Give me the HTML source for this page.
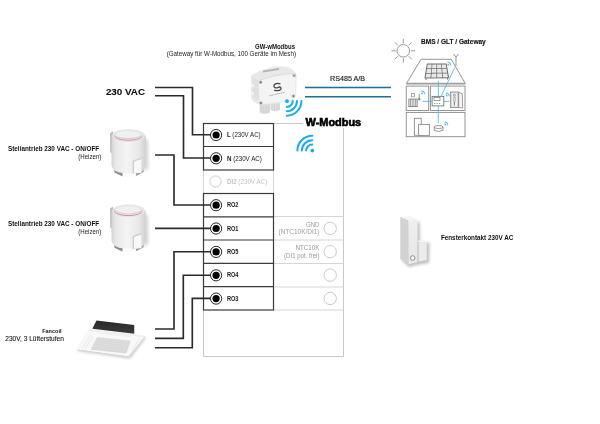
<!DOCTYPE html>
<html><head><meta charset="utf-8">
<style>
html,body{margin:0;padding:0;background:#fff;}
body{width:600px;height:424px;overflow:hidden;position:relative;}
svg{position:absolute;left:0;top:0;will-change:transform;}
text{font-family:"Liberation Sans",sans-serif;}
</style></head><body>
<svg width="600" height="424" viewBox="0 0 600 424">
<defs>
  <linearGradient id="act" x1="0" x2="1" y1="0" y2="0">
    <stop offset="0" stop-color="#d4d4d4"/>
    <stop offset="0.12" stop-color="#e8e8e8"/>
    <stop offset="0.45" stop-color="#f4f4f4"/>
    <stop offset="0.8" stop-color="#e8e8e8"/>
    <stop offset="1" stop-color="#d0d0d0"/>
  </linearGradient>
  <linearGradient id="ring" x1="0" x2="0" y1="0" y2="1">
    <stop offset="0" stop-color="#e4e4e4"/>
    <stop offset="0.4" stop-color="#e6d4d6"/>
    <stop offset="0.6" stop-color="#d98088"/>
    <stop offset="1" stop-color="#d6747e"/>
  </linearGradient>
  <linearGradient id="fkg" x1="0" x2="0" y1="0" y2="1">
    <stop offset="0" stop-color="#efefef"/>
    <stop offset="1" stop-color="#e6e6e6"/>
  </linearGradient>
  <filter id="blur1" x="-50%" y="-50%" width="200%" height="200%"><feGaussianBlur stdDeviation="1.5"/></filter>
  <linearGradient id="fcdark" x1="0" x2="0" y1="0" y2="1">
    <stop offset="0" stop-color="#2a2a2a"/>
    <stop offset="1" stop-color="#3a3a3a"/>
  </linearGradient>
</defs>
<rect width="600" height="424" fill="#fff"/>

<!-- grey outer box -->
<path d="M273.5 123.5 H303 M343.5 128 V356.5 H203.5 V310" fill="none" stroke="#c8c8c8" stroke-width="1"/>
<!-- right column dividers -->
<path d="M273.5 216.5 H343.5 M273.5 240 H343.5 M273.5 263.5 H343.5 M273.5 287 H343.5 M273.5 310 H343.5" stroke="#d6d6d6" stroke-width="1"/>
<!-- DI2 row grey -->
<path d="M203.5 170 V193.5 M273.5 170 V193.5" stroke="#d6d6d6" stroke-width="1"/>
<!-- left terminal boxes dark -->
<g fill="none" stroke="#3a3a3a" stroke-width="1.2">
  <rect x="203.5" y="123.5" width="70" height="46.5"/>
  <line x1="203.5" y1="146.5" x2="273.5" y2="146.5"/>
  <rect x="203.5" y="193.5" width="70" height="116.5"/>
  <line x1="203.5" y1="216.8" x2="273.5" y2="216.8"/>
  <line x1="203.5" y1="240" x2="273.5" y2="240"/>
  <line x1="203.5" y1="263.3" x2="273.5" y2="263.3"/>
  <line x1="203.5" y1="286.7" x2="273.5" y2="286.7"/>
</g>

<!-- wires -->
<g fill="none" stroke="#2b2b2b" stroke-width="1.65">
  <path d="M155 87.5 H192.5 V134.7 H212"/>
  <path d="M155 95.7 H183.5 V158 H212"/>
  <path d="M155 155 H174 V205 H212"/>
  <path d="M155 228.3 H212"/>
  <path d="M155 329 H174 V251.7 H212"/>
  <path d="M155 338.4 H183.3 V275.2 H212"/>
  <path d="M155 347.7 H192.3 V298.4 H212"/>
</g>

<!-- terminals -->
<g>
  <g id="term">
  </g>
</g>
<g fill="#fff" stroke="#1a1a1a" stroke-width="0.95">
  <circle cx="216.1" cy="135" r="5.6"/>
  <circle cx="216.1" cy="158.3" r="5.6"/>
  <circle cx="216.1" cy="205.2" r="5.6"/>
  <circle cx="216.1" cy="228.5" r="5.6"/>
  <circle cx="216.1" cy="251.9" r="5.6"/>
  <circle cx="216.1" cy="275.3" r="5.6"/>
  <circle cx="216.1" cy="298.6" r="5.6"/>
</g>
<g fill="#000">
  <circle cx="216.1" cy="135" r="3.6"/>
  <circle cx="216.1" cy="158.3" r="3.6"/>
  <circle cx="216.1" cy="205.2" r="3.6"/>
  <circle cx="216.1" cy="228.5" r="3.6"/>
  <circle cx="216.1" cy="251.9" r="3.6"/>
  <circle cx="216.1" cy="275.3" r="3.6"/>
  <circle cx="216.1" cy="298.6" r="3.6"/>
</g>
<!-- grey circles -->
<g fill="none" stroke="#c4c4c4" stroke-width="0.9">
  <circle cx="215.5" cy="181.5" r="5.6"/>
  <circle cx="330.2" cy="228.4" r="6.2"/>
  <circle cx="330.2" cy="251.7" r="6.2"/>
  <circle cx="330.2" cy="275.1" r="6.2"/>
  <circle cx="330.2" cy="298.4" r="6.2"/>
</g>

<!-- terminal labels -->
<g font-size="7" fill="#1a1a1a">
  <text x="226.9" y="137.3" textLength="33.7" lengthAdjust="spacingAndGlyphs"><tspan font-weight="bold">L</tspan> (230V AC)</text>
  <text x="226.9" y="160.6" textLength="35" lengthAdjust="spacingAndGlyphs"><tspan font-weight="bold">N</tspan> (230V AC)</text>
  <text x="226.9" y="184.1" textLength="40.3" lengthAdjust="spacingAndGlyphs" fill="#c4c4c4"><tspan font-weight="bold">DI2</tspan> (230V AC)</text>
  <text x="226.9" y="207.3" font-size="7.4" font-weight="bold" textLength="11.6" lengthAdjust="spacingAndGlyphs">RO2</text>
  <text x="226.9" y="230.6" font-size="7.4" font-weight="bold" textLength="11.6" lengthAdjust="spacingAndGlyphs">RO1</text>
  <text x="226.9" y="254.0" font-size="7.4" font-weight="bold" textLength="11.6" lengthAdjust="spacingAndGlyphs">RO5</text>
  <text x="226.9" y="277.4" font-size="7.4" font-weight="bold" textLength="11.6" lengthAdjust="spacingAndGlyphs">RO4</text>
  <text x="226.9" y="300.7" font-size="7.4" font-weight="bold" textLength="11.6" lengthAdjust="spacingAndGlyphs">RO3</text>
</g>
<g font-size="6.6" fill="#9a9a9a" text-anchor="end">
  <text x="319.5" y="226.5" textLength="13.5" lengthAdjust="spacingAndGlyphs">GND</text>
  <text x="319.5" y="234.3" textLength="41" lengthAdjust="spacingAndGlyphs">(NTC10K/DI1)</text>
  <text x="319.5" y="250.3" textLength="24" lengthAdjust="spacingAndGlyphs">NTC10K</text>
  <text x="319.5" y="258" textLength="35.4" lengthAdjust="spacingAndGlyphs">(DI1 pot. frei)</text>
</g>

<!-- big labels -->
<text x="105.9" y="94.8" font-size="9.2" font-weight="bold" stroke="#111" stroke-width="0.1" fill="#111" textLength="39.2" lengthAdjust="spacingAndGlyphs">230 VAC</text>
<text x="305.6" y="126.3" font-size="10.2" font-weight="bold" fill="#000" stroke="#000" stroke-width="0.6" textLength="55.6" lengthAdjust="spacingAndGlyphs">W-Modbus</text>
<text x="255" y="48.7" font-size="6.3" font-weight="bold" fill="#111" textLength="40" lengthAdjust="spacingAndGlyphs">GW-wModbus</text>
<text x="166.7" y="55.9" font-size="6.5" fill="#222" textLength="129.3" lengthAdjust="spacingAndGlyphs">(Gateway für W-Modbus, 100 Geräte im Mesh)</text>
<text x="330" y="80.7" font-size="6.5" fill="#222" stroke="#222" stroke-width="0.15" textLength="35" lengthAdjust="spacingAndGlyphs">RS485 A/B</text>
<text x="421" y="43.7" font-size="6.8" font-weight="bold" fill="#111" stroke="#111" stroke-width="0.12" textLength="64.7" lengthAdjust="spacingAndGlyphs">BMS / GLT / Gateway</text>
<text x="8" y="150.5" font-size="6.4" font-weight="bold" fill="#111" textLength="91.2" lengthAdjust="spacingAndGlyphs">Stellantrieb 230 VAC - ON/OFF</text>
<text x="78.3" y="158.6" font-size="6.5" fill="#222" textLength="23" lengthAdjust="spacingAndGlyphs">(Heizen)</text>
<text x="8" y="225.9" font-size="6.4" font-weight="bold" fill="#111" textLength="91.2" lengthAdjust="spacingAndGlyphs">Stellantrieb 230 VAC - ON/OFF</text>
<text x="78.3" y="233.8" font-size="6.5" fill="#222" textLength="23" lengthAdjust="spacingAndGlyphs">(Heizen)</text>
<text x="42.2" y="333.4" font-size="6.1" font-weight="bold" fill="#111" textLength="19.3" lengthAdjust="spacingAndGlyphs">Fancoil</text>
<text x="5.3" y="341.4" font-size="6.4" fill="#1a1a1a" stroke="#1a1a1a" stroke-width="0.1" textLength="58.6" lengthAdjust="spacingAndGlyphs">230V, 3 Lüfterstufen</text>
<text x="440.9" y="240" font-size="6.6" font-weight="bold" fill="#111" textLength="72.4" lengthAdjust="spacingAndGlyphs">Fensterkontakt 230V AC</text>

<!-- blue RS485 lines -->
<path d="M305 87.6 H391 M305 96.8 H391" stroke="#1f6d99" stroke-width="1.5"/>

<!-- wifi icons -->
<g fill="none" stroke="#17acf0" stroke-width="2" stroke-linecap="round">
  <path d="M306.2 150.6 A6.1 6.1 0 0 1 312.3 144.5"/>
  <path d="M301.9 150.6 A10.4 10.4 0 0 1 312.3 140.2"/>
  <path d="M297.4 150.6 A14.9 14.9 0 0 1 312.3 135.7"/>
</g>
<circle cx="312.3" cy="150.6" r="1.9" fill="#17acf0"/>


<!-- ===== ACTUATOR ===== -->
<g id="actuator">
  <!-- left fin -->
  <path d="M110 133.5 L113 131 L113.5 154 L110.3 152.5 Z" fill="#bdbdbd"/>
  <!-- base shadows -->
  <path d="M114 168 L122.7 170 L122.7 176.5 L114.5 172.5 Z" fill="#8c8c8c"/>
  <path d="M136 170 L144 168 L143.5 172 L136 176 Z" fill="#9a9a9a"/>
  <path d="M122.7 173.2 H136 V176.8 H122.7 Z" fill="#fbfbfb"/>
  <!-- shadow -->
  <path d="M144 138 L148 140 L148.5 168 L144 172 Z" fill="#bbb" filter="url(#blur1)" opacity="0.6"/>
  <!-- body -->
  <path d="M111.5 135.5 L111.5 165.5 Q113 172.5 124 173.3 L136 173.3 Q144 172 145.8 166 L145.8 135.5 Z" fill="url(#act)"/>
  <!-- top rim -->
  <ellipse cx="128.6" cy="135.5" rx="16.2" ry="6" fill="#ebebeb" stroke="#dcdcdc" stroke-width="0.5"/>
  <ellipse cx="128.4" cy="135.4" rx="14.1" ry="4.9" fill="none" stroke="url(#ring)" stroke-width="0.8"/>
  <ellipse cx="128.3" cy="135.3" rx="12.6" ry="3.9" fill="#d0d0d0"/>
  <ellipse cx="128.2" cy="134.5" rx="12.2" ry="3.6" fill="#f0f0f0"/>
  <!-- tab -->
  <path d="M132.6 161.5 Q133 160.2 135 159.8 L141.4 157.8 L141.4 172.8 L132.6 173.6 Z" fill="#cfcfcf"/>
  <path d="M134 162.6 Q134.3 161.4 135.5 161.1 L141.4 159.3 L141.4 172.8 L134 173.5 Z" fill="#f8f8f8"/>
</g>
<use href="#actuator" transform="translate(0 75.3)"/>
<!-- ===== GATEWAY ===== -->
<g id="gateway">
  <!-- glands -->
  <path d="M259.6 104 L270 104 L270 112.5 Q265 115 259.6 112.5 Z" fill="#dcdcdc"/>
  <path d="M261 106 V112.5 M263.5 106 V113.5 M266 106 V113.5 M268.5 106 V112.5" stroke="#c6c6c6" stroke-width="0.5"/>
  <path d="M270.4 103.5 L280 102.5 L280 110 Q275 112.5 270.4 110 Z" fill="#dedede"/>
  <path d="M272 104 V110.5 M274.5 104 V111.3 M277 104 V111 M279 104 V110" stroke="#c8c8c8" stroke-width="0.5"/>
  <!-- silhouette -->
  <path d="M251 75.5 Q262 68.5 276 66.5 Q289 65.5 294.8 71.5 Q297 74 296.6 78 L296.2 95 Q295.8 99.5 291 101.2 L262 104.8 Q256 104.5 253 101 L251 98 Z" fill="#e8e8e8"/>
  <!-- front face -->
  <path d="M258.5 80.5 Q275 74.5 291 73.5 Q295.3 73.5 295.6 77.5 L295.3 95 Q295 99 290.5 100.5 L263 103.8 Q259.6 103.8 259.3 100 Z" fill="#f4f4f4"/>
  <path d="M252 77 L258.5 80.8 L259.3 100.5 L252.5 97 Z" fill="#e0e0e0"/>
  <path d="M251.5 84 h2 v3 h-2 Z M251.5 92 h2 v3 h-2 Z" fill="#f5f5f5"/>
  <path d="M263 71.6 L279 68.8" stroke="#b0b0b0" stroke-width="1.8"/>
  <!-- screws -->
  <g fill="#7a7a7a" stroke="#d8d8d8" stroke-width="0.7">
    <circle cx="260.6" cy="82.2" r="1.5"/>
    <circle cx="294.2" cy="75.5" r="1.5"/>
    <circle cx="293.4" cy="96" r="1.5"/>
    <circle cx="260.9" cy="103" r="1.5"/>
  </g>
  <!-- S logo -->
  <g transform="translate(277.3 87) scale(0.85) translate(-277.3 -87)">
  <path d="M281 83.4 C276 81.6 272.6 83.8 273.4 86.6 C274 88.6 276.8 88.3 278.4 87.4 C280.8 86.2 282.6 88.4 281.2 90 C279.6 91.6 276 91.4 273.6 90.6" fill="none" stroke="#444" stroke-width="1.5"/>
  </g>
  <path d="M258.5 80.5 Q275 74.5 291 73.5 Q295.3 73.5 295.6 77.5" fill="none" stroke="#d2d2d2" stroke-width="0.7"/>
  <path d="M269.6 95.8 L285 92.2" stroke="#8a8a8a" stroke-width="0.9" stroke-dasharray="1.1 0.9"/>
</g>
<g fill="none" stroke="#17acf0" stroke-width="2" stroke-linecap="round">
  <path d="M292.7 101 A6 6 0 0 1 286.7 107"/>
  <path d="M297 101 A10.3 10.3 0 0 1 286.7 111.3"/>
  <path d="M301.4 101 A14.7 14.7 0 0 1 286.7 115.7"/>
</g>
<circle cx="287" cy="101.2" r="1.9" fill="#17acf0"/>

<!-- ===== FANCOIL ===== -->
<g id="fancoil">
  <path d="M78 351 L90 331 L146 337.5 L130 358.5 Z" fill="#9a9a9a" filter="url(#blur1)" opacity="0.55"/>
  <path d="M96.5 320.5 L134.2 325 L134.3 333.8 L92.3 328.8 Z" fill="url(#fcdark)"/>
  <path d="M77 349.5 L89 330.2 L145 336.6 L128.5 356.4 Z" fill="#f8f8f8"/>
  <path d="M77 349.5 L128.5 356.4 L128.7 357.5 L77.2 350.6 Z" fill="#d4d4d4"/>
  <path d="M128.5 356.4 L145 336.6 L145.3 337.6 L128.7 357.5 Z" fill="#dcdcdc"/>
  <path d="M89 330.2 L145 336.6" stroke="#e2e2e2" stroke-width="0.6"/>
  <path d="M97.4 337.4 L130.4 341 L126 353 L91.1 349.3 Z" fill="#e0e0e0" stroke="#d0d0d0" stroke-width="0.5"/>
  <g stroke="#cbcbcb" stroke-width="0.45">
    <path d="M96.8 338.9 L130 342.5 M96 340.6 L129.4 344.2 M95.2 342.3 L128.8 345.9 M94.4 344 L128.2 347.6 M93.6 345.7 L127.6 349.3 M92.8 347.4 L127 351 M92 348.9 L126.4 352.5"/>
  </g>
  <path d="M82.5 347.5 L90.5 335.3 M85.5 348 L93.2 336" stroke="#dedede" stroke-width="0.6"/>
  <path d="M131.8 350 L139.5 339.5 M134.5 350.3 L141.8 340.3" stroke="#dedede" stroke-width="0.6"/>
  <path d="M99 333 L131 336.6" stroke="#e6e6e6" stroke-width="0.6"/>
</g>

<!-- ===== WINDOW CONTACT ===== -->
<g id="fk">
  <path d="M402 260 L409 267 L419 264.5 L429 263 L429.5 243 L420 242 L419.5 222 L409 222 Z" fill="#a8a8a8" filter="url(#blur1)" opacity="0.75"/>
  <path d="M400.7 217.1 L408.4 220.6 L408.4 264.4 L400.7 258.8 Z" fill="#d2d2d2" stroke="#c4c4c4" stroke-width="0.5"/>
  <path d="M400.7 217.1 L409.8 215.9 L417.6 219.9 L408.4 220.6 Z" fill="#f4f4f4"/>
  <path d="M408.4 220.6 L417.6 219.9 L417.6 262.3 L408.4 264.4 Z" fill="url(#fkg)"/>
  <path d="M417.6 240.8 L418.3 240.4 L426.8 240.4 L426.8 242 L418.3 242.3 Z" fill="#f6f6f6"/>
  <path d="M418.3 242.3 L426.8 242 L426.8 260.2 L418.3 261.6 Z" fill="#ebebeb"/>
  <path d="M417.6 241 L418.6 242.3 L418.6 261.8 L417.6 262.3 Z" fill="#c9c9c9"/>
  <circle cx="412.7" cy="258" r="2.3" fill="#f4f4f4" stroke="#808080" stroke-width="0.8"/>
</g>

<!-- ===== HOUSE ===== -->
<g id="house" fill="none" stroke="#8a8a8a" stroke-width="0.9">
  <!-- sun -->
  <circle cx="403.3" cy="50.8" r="6.3" stroke="#999" stroke-width="1"/>
  <path d="M403.3 39 V43.3 M403.3 58.3 V62.6 M391.5 50.8 H395.8 M410.8 50.8 H415.1 M394.9 42.4 L397.9 45.4 M408.7 56.2 L411.7 59.2 M394.9 59.2 L397.9 56.2 M408.7 45.4 L411.7 42.4" stroke="#999" stroke-width="1"/>
  <!-- roof -->
  <path d="M406.4 83.6 L421 59.3 L451.3 59.3 L465.3 83.6 Z"/>
  <path d="M406.4 83.6 H465.3" stroke-width="1.6" stroke="#a0a0a0"/>
  <!-- solar -->
  <path d="M427.4 64 L446.1 64 L448.4 77.6 L425.1 78 Z" fill="#707070" stroke="#6a6a6a" stroke-width="1.2" stroke-linejoin="round"/>
  <path d="M427.67 64.39 L431.71 64.39 L431.37 68.25 L427.05 68.27 Z M432.37 64.39 L436.42 64.39 L436.40 68.22 L432.08 68.24 Z M437.08 64.39 L441.13 64.38 L441.42 68.19 L437.10 68.21 Z M441.79 64.38 L445.83 64.38 L446.45 68.15 L442.13 68.18 Z M426.93 69.06 L431.30 69.03 L430.96 72.88 L426.31 72.94 Z M432.02 69.02 L436.39 68.99 L436.37 72.82 L431.72 72.87 Z M437.11 68.98 L441.48 68.95 L441.78 72.75 L437.13 72.81 Z M442.20 68.95 L446.57 68.92 L447.19 72.69 L442.54 72.75 Z M426.19 73.72 L430.89 73.66 L430.55 77.52 L425.57 77.60 Z M431.66 73.65 L436.37 73.59 L436.34 77.42 L431.36 77.50 Z M437.13 73.58 L441.84 73.52 L442.14 77.32 L437.16 77.41 Z M442.61 73.51 L447.31 73.45 L447.93 77.23 L442.95 77.31 Z" fill="#e9e9e9" stroke="none"/>
  <path d="M426 78.5 v1.5 M447.5 78 v1.5" stroke="#777" stroke-width="1"/>
  <!-- antenna -->
  <path d="M456 56.5 V66 M453.5 54 L456 57 L458.5 54"/>
  <!-- rooms -->
  <rect x="406.2" y="86.1" width="22.5" height="24.4"/>
  <rect x="430.4" y="86.1" width="34.6" height="24.4"/>
  <rect x="406.2" y="112.4" width="58.8" height="24.3"/>
  <!-- thermostat -->
  <rect x="432.1" y="96.4" width="11.7" height="9.5" stroke="#777"/>
  <rect x="434" y="97.6" width="6" height="3" stroke="#777" stroke-width="0.7"/>
  <path d="M434.2 103.5 h1.2 M436.6 103.5 h1.2 M439 103.5 h1.2" stroke="#777" stroke-width="0.8"/>
  <!-- radiator -->
  <rect x="408.9" y="99.1" width="8.2" height="7.5" stroke="#777"/>
  <path d="M410.5 99.5 V106.3 M412.2 99.5 V106.3 M413.9 99.5 V106.3 M415.6 99.5 V106.3" stroke="#777" stroke-width="0.7"/>
  <rect x="411.6" y="93.6" width="2.8" height="3.2" stroke-width="0.7"/>
  <path d="M419.2 93.8 V98.2" stroke-width="0.9"/>
  <circle cx="419.2" cy="99.1" r="0.9" fill="#777"/>
  <!-- intercom -->
  <rect x="450.3" y="92" width="8.3" height="15.6" fill="#d8d8d8" stroke="#888" stroke-width="0.8"/>
  <rect x="452" y="93.3" width="5" height="13" fill="#f4f4f4" stroke="none"/>
  <circle cx="454.4" cy="95.3" r="1" stroke="#777" stroke-width="0.7"/>
  <path d="M453.3 97.2 h2.3 v4 h-2.3 Z" fill="#ddd" stroke="#999" stroke-width="0.5"/>
  <path d="M454.4 101.5 V105.5" stroke="#888" stroke-width="1.2"/>
  <path d="M458.7 92.2 L462.3 93.8 L462.6 108 L458.7 107.3 Z" fill="#f6f6f6" stroke="#888" stroke-width="0.8"/>
  <!-- boiler -->
  <rect x="414.4" y="118.3" width="6.8" height="17" />
  <rect x="418.6" y="124.4" width="10.8" height="11" fill="#fff"/>
  <!-- round device -->
  <ellipse cx="438.6" cy="127" rx="4.4" ry="1.5"/>
  <path d="M434.2 127 V130.4 Q438.6 132.5 443 130.4 V127"/>
</g>
<g fill="none" stroke="#3fb4ea" stroke-width="0.8">
  <path d="M438.3 80.8 V96.4 M438.3 105.9 V123.5"/>
  <path d="M422.6 101.4 H432.1 M443.8 101.4 H449.2"/>
  <path d="M441 96.4 L454.8 67.5"/>
</g>
<g fill="#52bdf0"><path d="M421.3 90.4 a3.8 3.8 0 0 1 3.8 3.8 h-1 a2.8 2.8 0 0 0 -2.8 -2.8 Z"/><path d="M421.3 92.3 a1.9 1.9 0 0 1 1.9 1.9 h-1.9 Z"/><path d="M445.8 92.4 a3.8 3.8 0 0 1 3.8 3.8 h-1 a2.8 2.8 0 0 0 -2.8 -2.8 Z"/><path d="M445.8 94.3 a1.9 1.9 0 0 1 1.9 1.9 h-1.9 Z"/><path d="M444.5 121.4 a3.8 3.8 0 0 1 3.8 3.8 h-1 a2.8 2.8 0 0 0 -2.8 -2.8 Z"/><path d="M444.5 123.3 a1.9 1.9 0 0 1 1.9 1.9 h-1.9 Z"/><path d="M447.5 61.7 a3.8 3.8 0 0 1 3.8 3.8 h-1 a2.8 2.8 0 0 0 -2.8 -2.8 Z"/><path d="M447.5 63.6 a1.9 1.9 0 0 1 1.9 1.9 h-1.9 Z"/></g>

</svg>
</body></html>
